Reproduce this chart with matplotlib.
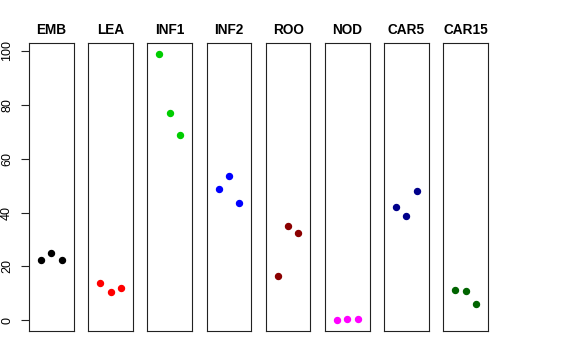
import matplotlib
matplotlib.use("Agg")
import matplotlib.pyplot as plt

plt.rcParams['font.family'] = ['Liberation Sans', 'DejaVu Sans']

# tissues and their three replicate values
tissues = ["EMB", "LEA", "INF1", "INF2", "ROO", "NOD", "CAR5", "CAR15"]
colors = ["#000000", "#FF0000", "#00CD00", "#0000FF",
          "#8B0000", "#FF00FF", "#00008B", "#006400"]
values = [
    [22.4, 24.9, 22.5],
    [13.9, 10.5, 11.9],
    [99.0, 77.0, 68.8],
    [48.9, 53.6, 43.7],
    [16.6, 35.1, 32.3],
    [0.0, 0.4, 0.4],
    [41.9, 38.7, 48.2],
    [11.2, 11.0, 5.9],
]
reps = [1, 2, 3]
yticks = [0, 20, 40, 60, 80, 100]

fig, axes = plt.subplots(1, 8, sharey=True, figsize=(5.76, 3.6), dpi=100)
fig.subplots_adjust(left=29/576, right=488/576, top=1-43/360, bottom=1-331/360,
                    wspace=14.5/44.7)

ymin, ymax = 0, 99
pad = 0.04*(ymax-ymin)
for ax, name, col, vals in zip(axes, tissues, colors, values):
    ax.plot(reps, vals, 'o', color=col, ms=4.3, mec=col)
    ax.set_xlim(-0.16, 4.16)
    ax.set_ylim(ymin-pad, ymax+pad)
    ax.set_title(name, fontsize=9.8, fontweight='bold', pad=6.5)
    ax.set_xticks([])
    for s in ax.spines.values():
        s.set_linewidth(0.8)
        s.set_color('#222222')
    ax.tick_params(axis='y', left=False, labelleft=False)

ax0 = axes[0]
ax0.set_yticks(yticks)
ax0.tick_params(axis='y', left=True, labelleft=True, length=5.5, width=0.8,
                color='#222222', labelsize=9, pad=6)
for lab in ax0.get_yticklabels():
    lab.set_rotation(90)
    lab.set_va('center')

fig.savefig("out.png", dpi=100)
